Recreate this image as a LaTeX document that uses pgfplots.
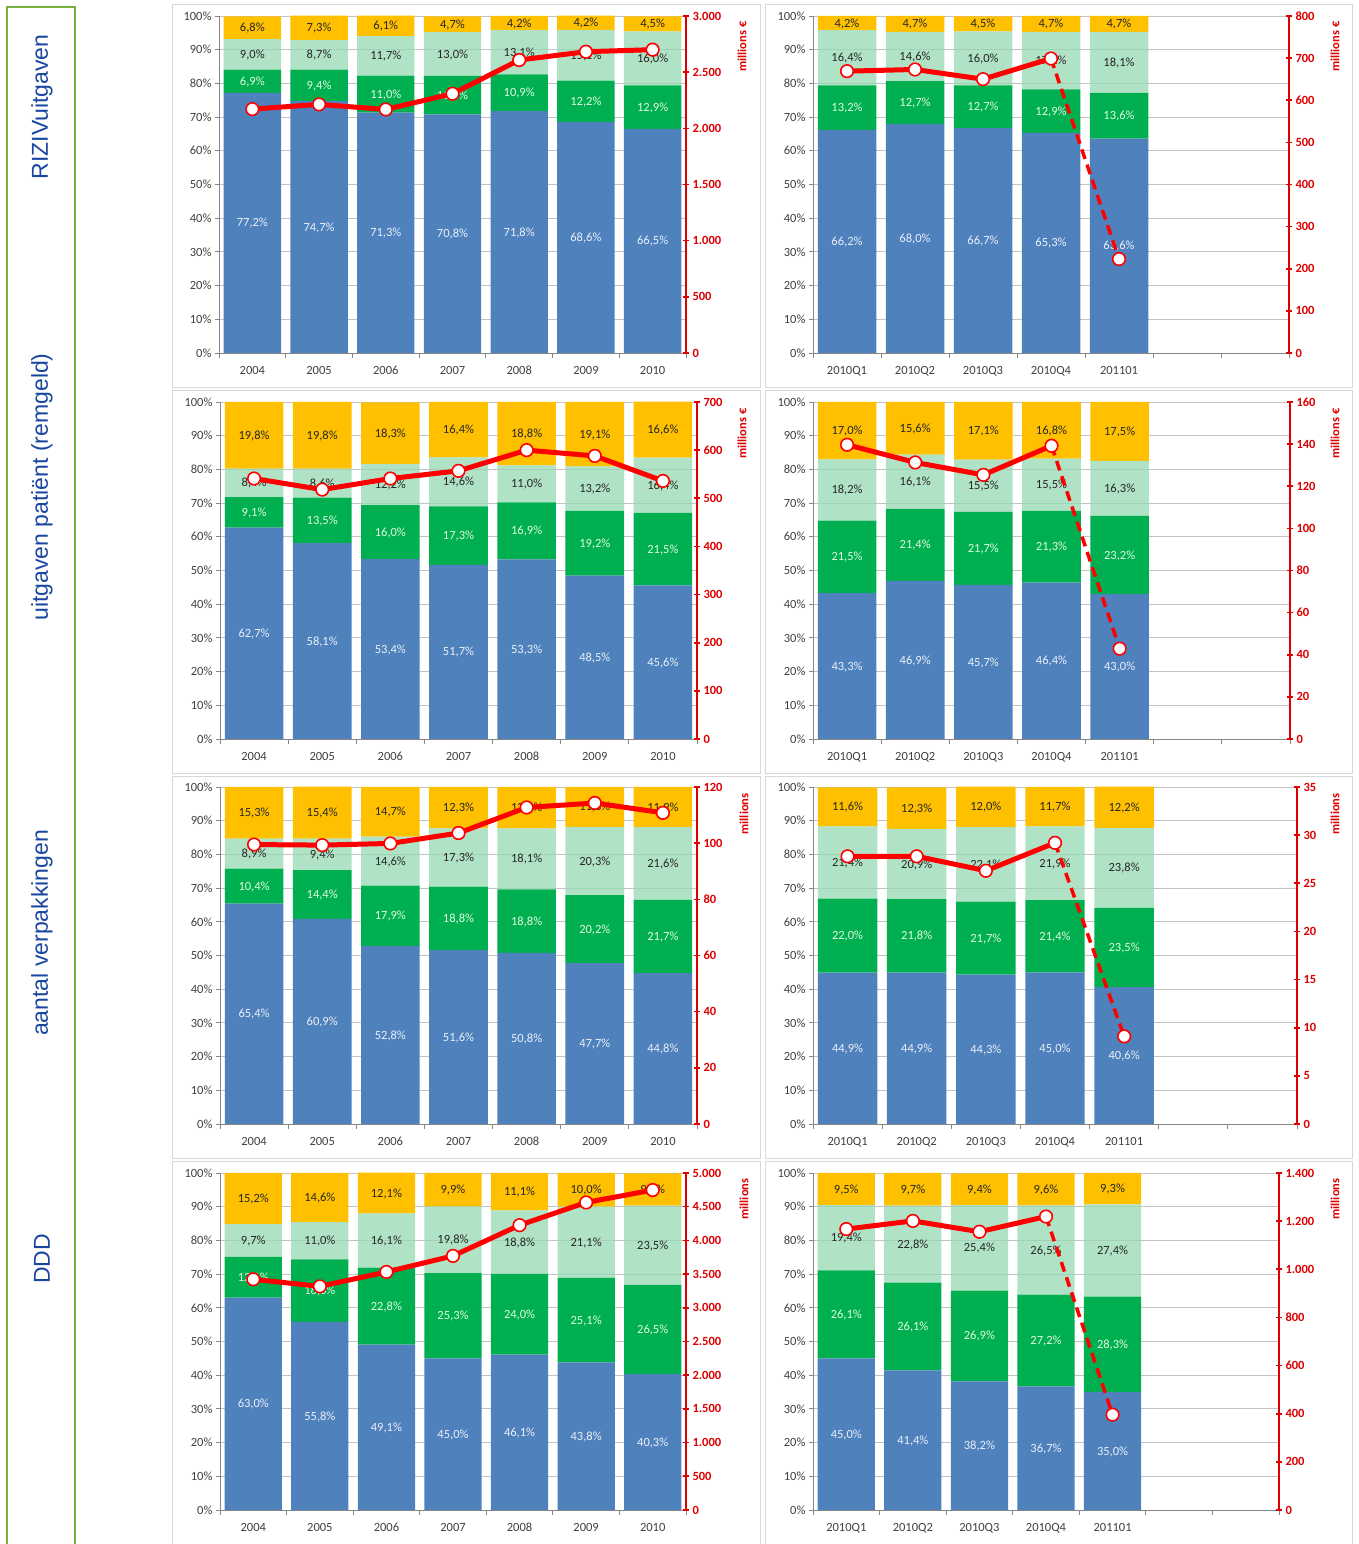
\documentclass[border=0pt]{standalone}
\usepackage{pgfplots}
\pgfplotsset{compat=1.18}
\usepackage{pgfplotstable}
\usepackage{fontspec}
\setmainfont{Carlito}
\newfontfamily\rowfontfam{Liberation Sans}
\definecolor{cblue}{RGB}{79,129,189}
\definecolor{cgreen}{RGB}{0,176,80}
\definecolor{clight}{RGB}{150,216,178}
\definecolor{cyel}{RGB}{255,192,0}
\definecolor{cred}{RGB}{255,0,0}
\definecolor{credax}{RGB}{222,0,0}
\definecolor{gridgray}{RGB}{195,195,195}
\definecolor{axgray}{RGB}{134,134,134}
\definecolor{labgray}{RGB}{64,64,64}
\definecolor{framegray}{RGB}{215,215,215}
\definecolor{boxgreen}{RGB}{119,176,62}
\definecolor{rowblue}{RGB}{25,70,160}
\definecolor{lblue}{RGB}{235,240,250}
\definecolor{lgreen}{RGB}{225,250,225}
\definecolor{ldark}{RGB}{38,38,38}
\newcommand\ticklab{\fontsize{12.5}{14}\selectfont}
\newcommand\datalab{\fontsize{12.5}{14}\selectfont}
\newcommand\redlab{\fontsize{12.5}{14}\selectfont\bfseries}

\pgfplotstableread{
x b g l o v
0 77.2 6.9 9.0 6.8 2171
1 74.7 9.4 8.7 7.3 2213
2 71.3 11.0 11.7 6.1 2168
3 70.8 11.4 13.0 4.7 2308
4 71.8 10.9 13.1 4.2 2608
5 68.6 12.2 15.1 4.2 2682
6 66.5 12.9 16.0 4.5 2700
}\tA
\pgfplotstableread{
x b g l o v
0 66.2 13.2 16.4 4.2 669
1 68.0 12.7 14.6 4.7 673
2 66.7 12.7 16.0 4.5 650
3 65.3 12.9 17.1 4.7 699
4 63.6 13.6 18.1 4.7 223
}\tB
\pgfplotstableread{
x b g l o v
0 62.7 9.1 8.4 19.8 541
1 58.1 13.5 8.6 19.8 518
2 53.4 16.0 12.2 18.3 541
3 51.7 17.3 14.6 16.4 557
4 53.3 16.9 11.0 18.8 600
5 48.5 19.2 13.2 19.1 588
6 45.6 21.5 16.4 16.6 536
}\tC
\pgfplotstableread{
x b g l o v
0 43.3 21.5 18.2 17.0 139.7
1 46.9 21.4 16.1 15.6 131.3
2 45.7 21.7 15.5 17.1 125.4
3 46.4 21.3 15.5 16.8 139.2
4 43.0 23.2 16.3 17.5 42.9
}\tD
\pgfplotstableread{
x b g l o v
0 65.4 10.4 8.9 15.3 99.5
1 60.9 14.4 9.4 15.4 99.3
2 52.8 17.9 14.6 14.7 99.9
3 51.6 18.8 17.3 12.3 103.6
4 50.8 18.8 18.1 12.3 112.7
5 47.7 20.2 20.3 11.8 114.3
6 44.8 21.7 21.6 11.9 110.8
}\tE
\pgfplotstableread{
x b g l o v
0 44.9 22.0 21.4 11.6 27.8
1 44.9 21.8 20.9 12.3 27.8
2 44.3 21.7 22.1 12.0 26.3
3 45.0 21.4 21.9 11.7 29.2
4 40.6 23.5 23.8 12.2 9.1
}\tF
\pgfplotstableread{
x b g l o v
0 63.0 12.1 9.7 15.2 3423
1 55.8 18.6 11.0 14.6 3318
2 49.1 22.8 16.1 12.1 3532
3 45.0 25.3 19.8 9.9 3770
4 46.1 24.0 18.8 11.1 4226
5 43.8 25.1 21.1 10.0 4563
6 40.3 26.5 23.5 9.6 4747
}\tG
\pgfplotstableread{
x b g l o v
0 45.0 26.1 19.4 9.5 1167
1 41.4 26.1 22.8 9.7 1201
2 38.2 26.9 25.4 9.4 1156
3 36.7 27.2 26.5 9.6 1219
4 35.0 28.3 27.4 9.3 396
}\tH

\pgfplotsset{
 barax/.style={
   scale only axis, height=337pt, anchor=south west,
   ybar stacked, bar width=0.86,
   xmin=-0.5, xmax=6.5, ymin=0, ymax=100,
   ytick={0,10,...,100},
   yticklabels={0\%,10\%,20\%,30\%,40\%,50\%,60\%,70\%,80\%,90\%,100\%},
   minor xtick={-0.5,0.5,...,6.5},
   axis x line*=bottom, axis y line*=left,
   axis line style={draw=axgray, line width=0.8pt},
   ymajorgrids, grid style={draw=gridgray, line width=0.8pt},
   tick align=outside,
   major x tick style={draw=none},
   minor x tick style={draw=axgray, line width=0.8pt},
   minor tick length=5pt,
   major y tick style={draw=axgray, line width=0.8pt},
   major tick length=4pt,
   tick label style={font=\ticklab, text=labgray},
   xticklabel style={anchor=north, yshift=-9pt, text height=8.5pt, text depth=0pt, inner sep=0pt},
   clip=false,
 },
 labax/.style={
   scale only axis, height=337pt, anchor=south west,
   xmin=-0.5, xmax=6.5, ymin=0, ymax=100, hide axis, clip=false,
 },
 lab/.style={
   draw=none, mark=none,
   nodes near coords={\pgfmathprintnumber[fixed,fixed zerofill,precision=1,use comma,assume math mode=true]{\pgfplotspointmeta}\%},
   point meta=explicit,
   every node near coord/.append style={font=\datalab, text=#1, inner sep=0pt, text height=8.5pt, text depth=0pt, yshift=-4.25pt},
 },
 lineax/.style={
   scale only axis, height=337pt, anchor=south west,
   xmin=-0.5, xmax=6.5, ymin=0,
   axis x line=none, axis y line*=right,
   axis line style={draw=credax, line width=2.2pt},
   ytick style={draw=credax, line width=1.6pt},
   tick align=center, major tick length=6pt,
   yticklabel style={font=\redlab, text=credax},
   clip=false,
 },
 redline/.style={draw=cred, line width=5pt, line join=round, mark=none},
 reddash/.style={draw=cred, line width=3.5pt, dash pattern=on 10pt off 6pt, mark=none},
 rmark/.style={mark=*, mark size=6.3pt, mark options={solid, fill=white, draw=cred, line width=1.6pt}},
}

\newcommand\bars[6]{%
  \begin{axis}[barax, at={(#1pt,#2pt)}, width=#3pt, xtick={#5}, xticklabels={#6}]
    \addplot[fill=cblue, draw=none] table[x=x,y=b]{#4};
    \addplot[fill=cgreen, draw=none] table[x=x,y=g]{#4};
    \addplot[fill=clight, draw=none, fill opacity=0.75] table[x=x,y=l]{#4};
    \addplot[fill=cyel, draw=none] table[x=x,y=o]{#4};
  \end{axis}
  \begin{axis}[labax, at={(#1pt,#2pt)}, width=#3pt]
    \addplot[lab=lblue] table[x=x, y expr=\thisrow{b}/2, meta=b]{#4};
    \addplot[lab=lgreen] table[x=x, y expr=\thisrow{b}+\thisrow{g}/2, meta=g]{#4};
    \addplot[lab=ldark] table[x=x, y expr=\thisrow{b}+\thisrow{g}+\thisrow{l}/2, meta=l]{#4};
    \addplot[lab=ldark] table[x=x, y expr=\thisrow{b}+\thisrow{g}+\thisrow{l}+\thisrow{o}/2, meta=o]{#4};
  \end{axis}}
\newcommand\lineaxis[7]{%
  \begin{axis}[lineax, at={(#1pt,#2pt)}, width=#3pt, ymax=#5, ytick={#6}, yticklabels={#7}]
    \addplot[redline] table[x=x,y=v]{#4};
    \addplot[only marks, rmark] table[x=x,y=v]{#4};
  \end{axis}}
\newcommand\lineaxisq[7]{%
  \begin{axis}[lineax, at={(#1pt,#2pt)}, width=#3pt, ymax=#5, ytick={#6}, yticklabels={#7}]
    \addplot[redline, restrict x to domain=0:3] table[x=x,y=v]{#4};
    \addplot[reddash, restrict x to domain=3:4] table[x=x,y=v]{#4};
    \addplot[only marks, rmark] table[x=x,y=v]{#4};
  \end{axis}}

\begin{document}
\begin{tikzpicture}
\path[use as bounding box] (0pt,0pt) rectangle (1358pt,1544pt);
% panel frames
\draw[framegray, line width=1pt] (172pt,1539pt) rectangle (760pt,1156pt);
\draw[framegray, line width=1pt] (765pt,1539pt) rectangle (1352pt,1156pt);
\draw[framegray, line width=1pt] (172pt,1153pt) rectangle (760pt,770pt);
\draw[framegray, line width=1pt] (765pt,1153pt) rectangle (1352pt,770pt);
\draw[framegray, line width=1pt] (172pt,767pt) rectangle (760pt,385pt);
\draw[framegray, line width=1pt] (765pt,767pt) rectangle (1352pt,385pt);
\draw[framegray, line width=1pt] (172pt,382pt) rectangle (760pt,-6pt);
\draw[framegray, line width=1pt] (765pt,382pt) rectangle (1352pt,-6pt);
% left box
\draw[boxgreen, line width=2pt] (7pt,-10pt) -- (7pt,1537pt) -- (75pt,1537pt) -- (75pt,-10pt);
\node[rotate=90, text=rowblue, font=\rowfontfam\fontsize{23}{26}\selectfont] at (42pt,1437pt) {RIZIVuitgaven};
\node[rotate=90, text=rowblue, font=\rowfontfam\fontsize{23}{26}\selectfont] at (42pt,1057pt) {uitgaven patiënt (remgeld)};
\node[rotate=90, text=rowblue, font=\rowfontfam\fontsize{23}{26}\selectfont] at (42pt,611pt) {aantal verpakkingen};
\node[rotate=90, text=rowblue, font=\rowfontfam\fontsize{23}{26}\selectfont] at (42pt,285pt) {DDD};
% row 1
\bars{219}{1191}{467}{\tA}{0,...,6}{2004,2005,2006,2007,2008,2009,2010}
\lineaxis{219}{1191}{467}{\tA}{3000}{0,500,...,3000}{0,500,1.000,1.500,2.000,2.500,3.000}
\bars{813}{1191}{476}{\tB}{0,...,4}{2010Q1,2010Q2,2010Q3,2010Q4,201101}
\lineaxisq{813}{1191}{476}{\tB}{800}{0,100,...,800}{0,100,200,300,400,500,600,700,800}
% row 2
\bars{220}{805}{477}{\tC}{0,...,6}{2004,2005,2006,2007,2008,2009,2010}
\lineaxis{220}{805}{477}{\tC}{700}{0,100,...,700}{0,100,200,300,400,500,600,700}
\bars{813}{805}{477}{\tD}{0,...,4}{2010Q1,2010Q2,2010Q3,2010Q4,201101}
\lineaxisq{813}{805}{477}{\tD}{160}{0,20,...,160}{0,20,40,60,80,100,120,140,160}
% row 3
\bars{220}{420}{477}{\tE}{0,...,6}{2004,2005,2006,2007,2008,2009,2010}
\lineaxis{220}{420}{477}{\tE}{120}{0,20,...,120}{0,20,40,60,80,100,120}
\bars{813}{420}{484}{\tF}{0,...,4}{2010Q1,2010Q2,2010Q3,2010Q4,201101}
\lineaxisq{813}{420}{484}{\tF}{35}{0,5,...,35}{0,5,10,15,20,25,30,35}
% row 4
\bars{220}{34}{466}{\tG}{0,...,6}{2004,2005,2006,2007,2008,2009,2010}
\lineaxis{220}{34}{466}{\tG}{5000}{0,500,...,5000}{0,500,1.000,1.500,2.000,2.500,3.000,3.500,4.000,4.500,5.000}
\bars{813}{34}{466}{\tH}{0,...,4}{2010Q1,2010Q2,2010Q3,2010Q4,201101}
\lineaxisq{813}{34}{466}{\tH}{1400}{0,200,...,1400}{0,200,400,600,800,1.000,1.200,1.400}
% millions labels
\node[rotate=90, anchor=east, font=\redlab, text=credax] at (742pt,1526pt) {millions €};
\node[rotate=90, anchor=east, font=\redlab, text=credax] at (1335pt,1526pt) {millions €};
\node[rotate=90, anchor=east, font=\redlab, text=credax] at (742pt,1139pt) {millions €};
\node[rotate=90, anchor=east, font=\redlab, text=credax] at (1335pt,1139pt) {millions €};
\node[rotate=90, anchor=east, font=\redlab, text=credax] at (744pt,754pt) {millions};
\node[rotate=90, anchor=east, font=\redlab, text=credax] at (1335pt,754pt) {millions};
\node[rotate=90, anchor=east, font=\redlab, text=credax] at (744pt,369pt) {millions};
\node[rotate=90, anchor=east, font=\redlab, text=credax] at (1335pt,369pt) {millions};
\end{tikzpicture}
\end{document}
